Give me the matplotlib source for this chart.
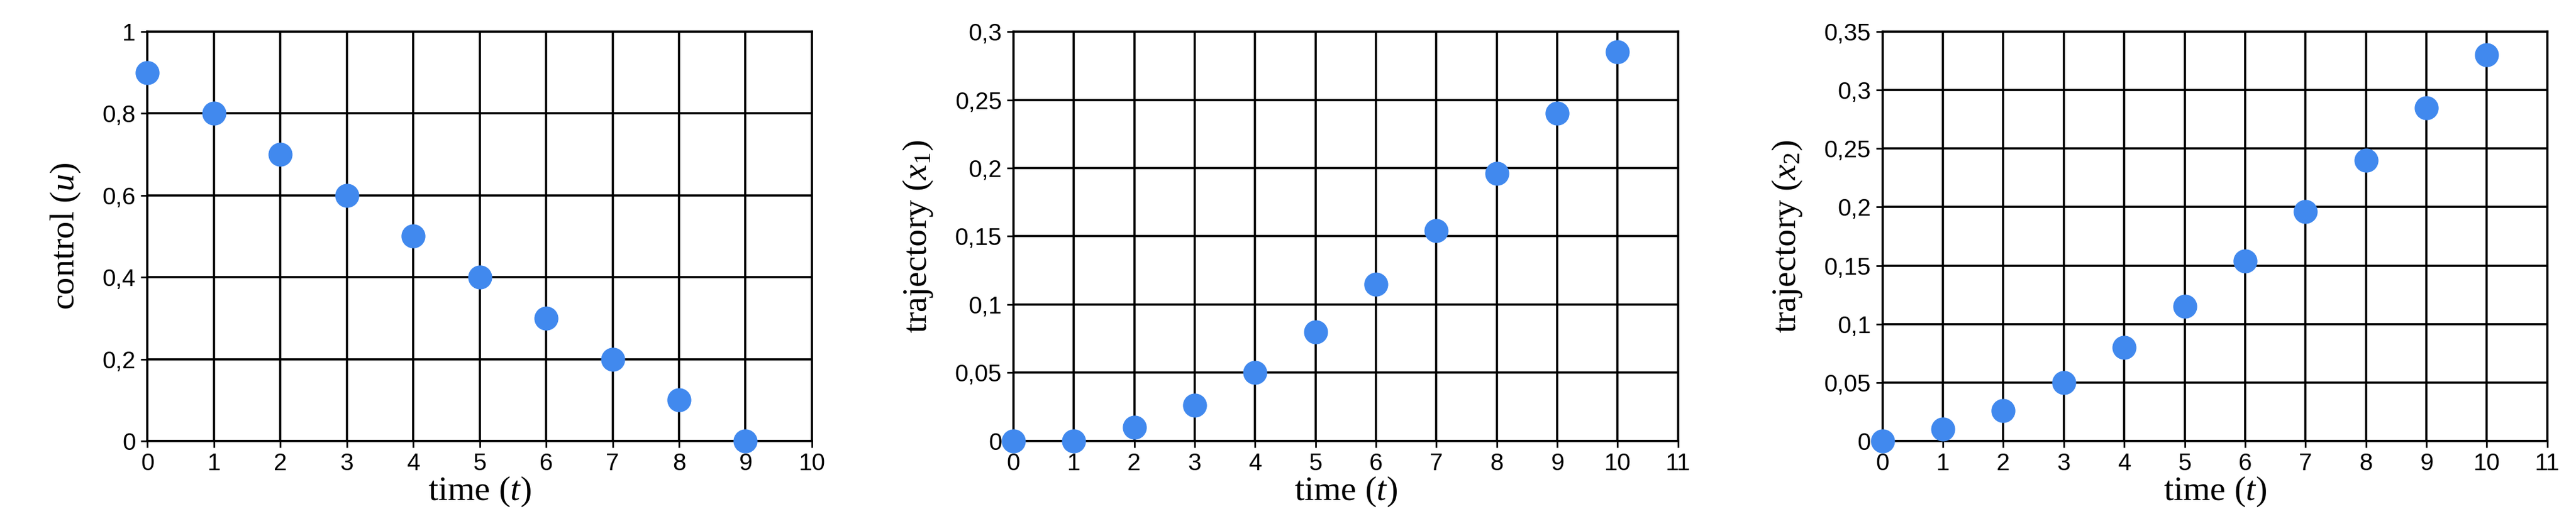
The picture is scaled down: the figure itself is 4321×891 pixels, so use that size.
import matplotlib
matplotlib.use("Agg")
import matplotlib.pyplot as plt
from matplotlib.ticker import FuncFormatter

t_u = [0, 1, 2, 3, 4, 5, 6, 7, 8, 9]
u = [0.9, 0.8, 0.7, 0.6, 0.5, 0.4, 0.3, 0.2, 0.1, 0.0]
t_x = [0, 1, 2, 3, 4, 5, 6, 7, 8, 9, 10]
x1 = [0.0, 0.0, 0.01, 0.026, 0.05, 0.08, 0.115, 0.154, 0.196, 0.24, 0.285]
x2 = [0.0, 0.01, 0.026, 0.05, 0.08, 0.115, 0.154, 0.196, 0.24, 0.285, 0.33]

plt.rcParams['mathtext.fontset'] = 'custom'
plt.rcParams['mathtext.it'] = 'Liberation Serif:italic'
plt.rcParams['mathtext.rm'] = 'Liberation Serif'

fig = plt.figure(figsize=(43.21, 8.91), dpi=100)
specs = [
    (0.0572, t_u, u, 10, 1.0, 0.2, r'control $(u)$'),
    (0.3934, t_x, x1, 11, 0.3, 0.05, r'trajectory $(x_1)$'),
    (0.7308, t_x, x2, 11, 0.35, 0.05, r'trajectory $(x_2)$'),
]
blue = '#4189EE'
tickfont = ['Liberation Sans Narrow', 'Liberation Sans', 'DejaVu Sans']

def fmt(v, pos):
    s = ('%.2f' % v).rstrip('0').rstrip('.')
    return s.replace('.', ',')

for left, tx, ys, xmax, ymax, ystep, ylab in specs:
    ax = fig.add_axes([left, 0.1695, 0.258, 0.771])
    ax.plot(tx, ys, 'o', color=blue, markersize=28, clip_on=False, zorder=3)
    ax.set_xlim(0, xmax)
    ax.set_ylim(0, ymax)
    ax.set_xticks(range(0, xmax + 1))
    n = int(round(ymax / ystep))
    ax.set_yticks([i * ystep for i in range(n + 1)])
    ax.yaxis.set_major_formatter(FuncFormatter(fmt))
    ax.grid(True, color='black', linewidth=2.6)
    for s in ax.spines.values():
        s.set_linewidth(2.6)
    ax.tick_params(length=8, width=2, labelsize=29, pad=6)
    for lbl in ax.get_xticklabels() + ax.get_yticklabels():
        lbl.set_family(tickfont)
    ax.set_xlabel(r'time $(t)$', fontsize=42, family='Liberation Serif', labelpad=0)
    ax.set_ylabel(ylab, fontsize=42, family='Liberation Serif', labelpad=24)

fig.savefig('out.png', dpi=100)
